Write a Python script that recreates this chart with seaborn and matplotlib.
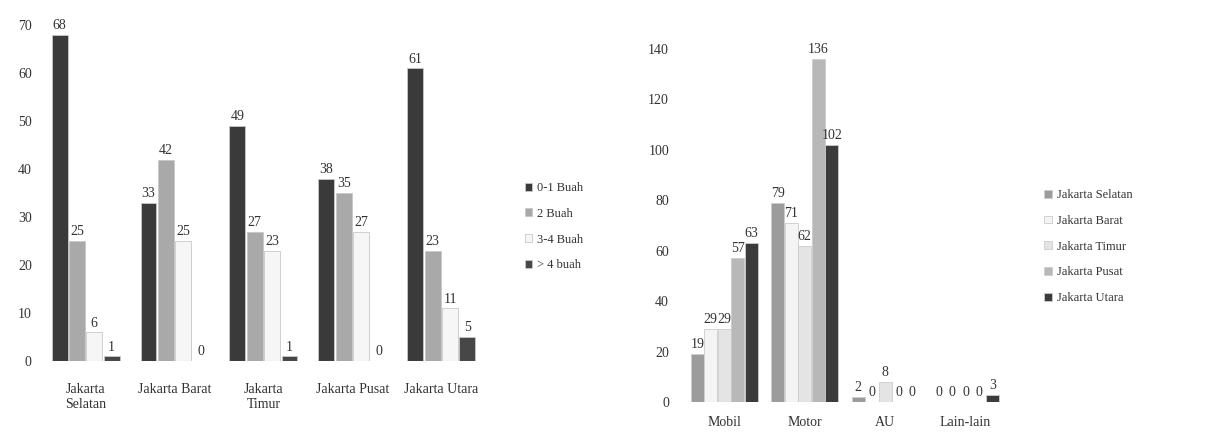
import pandas as pd
import numpy as np
import matplotlib
matplotlib.use("Agg")
import matplotlib.pyplot as plt
import seaborn as sns

# left chart: jumlah per wilayah
wilayah = ["Jakarta\nSelatan", "Jakarta Barat", "Jakarta\nTimur", "Jakarta Pusat", "Jakarta Utara"]
buah_series = ["0-1 Buah", "2 Buah", "3-4 Buah", "> 4 buah"]
buah_01 = [68, 33, 49, 38, 61]
buah_2 = [25, 42, 27, 35, 23]
buah_34 = [6, 25, 23, 27, 11]
buah_4plus = [1, 0, 1, 0, 5]

# right chart: jenis kendaraan
jenis = ["Mobil", "Motor", "AU", "Lain-lain"]
kota = ["Jakarta Selatan", "Jakarta Barat", "Jakarta Timur", "Jakarta Pusat", "Jakarta Utara"]
selatan = [19, 79, 2, 0]
barat = [29, 71, 0, 0]
timur = [29, 62, 8, 0]
pusat = [57, 136, 0, 0]
utara = [63, 102, 0, 3]

left = pd.DataFrame({
    "wilayah": wilayah * 4,
    "seri": np.repeat(buah_series, len(wilayah)),
    "nilai": buah_01 + buah_2 + buah_34 + buah_4plus,
})
right = pd.DataFrame({
    "jenis": jenis * 5,
    "kota": np.repeat(kota, len(jenis)),
    "nilai": selatan + barat + timur + pusat + utara,
})

sns.set_style("white")
plt.rcParams["font.family"] = ["Liberation Serif", "DejaVu Serif"]

fig = plt.figure(figsize=(12.21, 4.42), dpi=100)
ax1 = fig.add_axes([0.03, 0.183, 0.365, 0.76])
ax2 = fig.add_axes([0.557, 0.09, 0.27, 0.80])

pal_left = ["#3a3a3a", "#a9a9a9", "#f6f6f6", "#474747"]
pal_right = ["#9c9c9c", "#f4f4f4", "#e4e4e4", "#b8b8b8", "#3b3b3b"]

sns.barplot(data=left, x="wilayah", y="nilai", hue="seri", palette=pal_left,
            width=0.78, gap=0.08, edgecolor="#c8c8c8", linewidth=0.6, ax=ax1)
sns.barplot(data=right, x="jenis", y="nilai", hue="kota", palette=pal_right,
            width=0.84, gap=0.05, edgecolor="#cccccc", linewidth=0.6, ax=ax2)

for c in ax1.containers:
    ax1.bar_label(c, fontsize=10, color="#333333", padding=2)
for c in ax2.containers:
    ax2.bar_label(c, fontsize=10, color="#333333", padding=2)

ax1.set_ylim(0, 70)
ax1.set_yticks(range(0, 71, 10))
ax1.set_xlim(-0.55, 4.46)
ax2.set_ylim(0, 140)
ax2.set_yticks(range(0, 141, 20))
ax2.set_xlim(-0.55, 3.55)

for ax in (ax1, ax2):
    sns.despine(ax=ax, left=True, bottom=True)
    ax.set_xlabel("")
    ax.set_ylabel("")
    ax.tick_params(axis="both", length=0, labelsize=10, colors="#333333")
    ax.axhline(0, color="#bbbbbb", lw=0.8, ls=(0, (1, 2)))
ax1.tick_params(axis="x", pad=16)
ax2.tick_params(axis="x", pad=10)
ax2.tick_params(axis="y", pad=8)

ax1.legend(frameon=False, fontsize=9, handlelength=0.6, handleheight=0.6,
           handletextpad=0.4, labelspacing=1.1, loc="center left",
           bbox_to_anchor=(1.07, 0.40), labelcolor="#333333")
ax2.legend(frameon=False, fontsize=9, handlelength=0.6, handleheight=0.6,
           handletextpad=0.4, labelspacing=1.1, loc="center left",
           bbox_to_anchor=(1.07, 0.44), labelcolor="#333333")

fig.savefig("out.png", dpi=100, facecolor="white")
